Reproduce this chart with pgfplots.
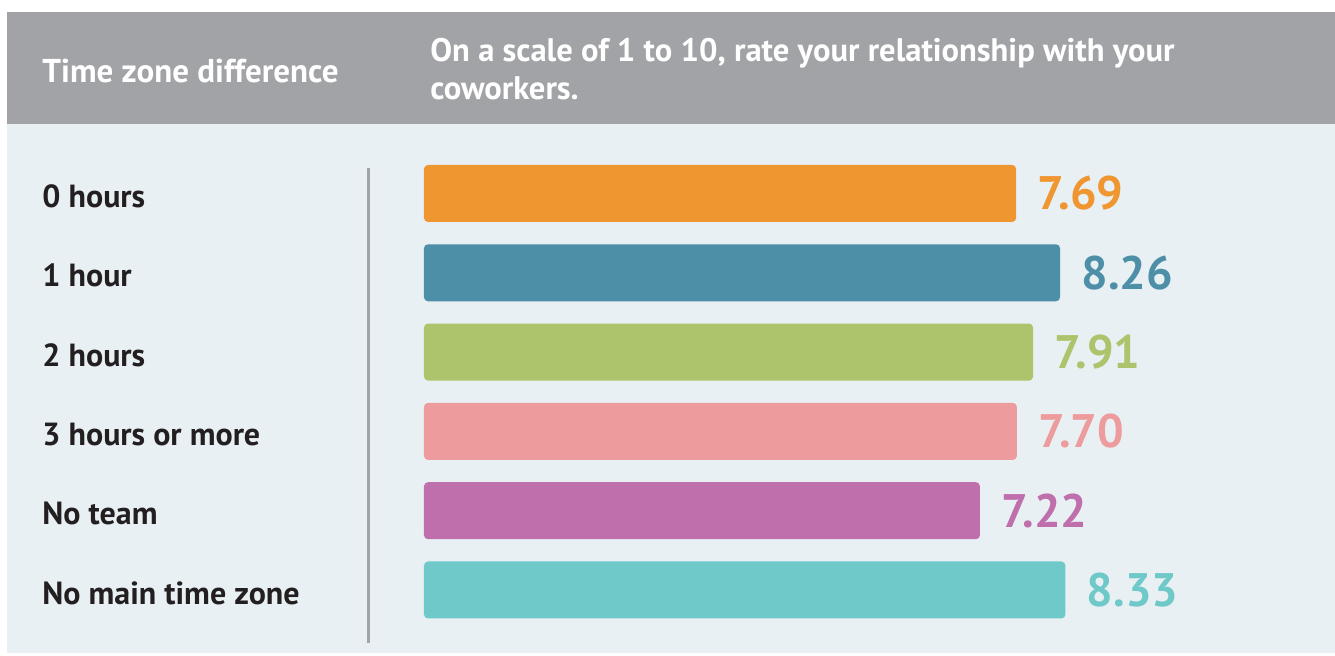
\documentclass[border=0pt]{standalone}
\usepackage{pgfplots}
\pgfplotsset{compat=1.18}
\usepackage{fontspec}
\setmainfont{PT Sans}
\definecolor{hdr}{HTML}{A2A3A6}
\definecolor{bg}{HTML}{E8F0F4}
\definecolor{labelc}{HTML}{231F20}
\definecolor{c1}{HTML}{EF9630}
\definecolor{c2}{HTML}{4E8FA8}
\definecolor{c3}{HTML}{ADC46C}
\definecolor{c4}{HTML}{EE9B9E}
\definecolor{c5}{HTML}{BF6FAB}
\definecolor{c6}{HTML}{6FC9C9}
\begin{document}
\begin{tikzpicture}[x=1pt,y=1pt]
\fill[white] (0,0) rectangle (667.5,327.5);
\fill[hdr] (3.5,265.5) rectangle (667.5,321.5);
\fill[bg] (3.5,1) rectangle (667.5,265.5);
\draw[hdr, line width=1.5pt] (184,6) -- (184,243.5);
\node[anchor=west, inner sep=0, text=white, font=\bfseries\fontsize{16.5}{18.5}\selectfont] at (21,292) {Time zone difference};
\node[anchor=west, align=left, inner sep=0, text=white, font=\bfseries\fontsize{16.3}{18.7}\selectfont] at (215,293) {On a scale of 1 to 10, rate your relationship with your\\coworkers.};
\begin{axis}[at={(212pt,12.68pt)}, anchor=south west, scale only axis,
  width=385pt, height=237.9pt,
  xmin=0, xmax=10, ymin=-0.5, ymax=5.5, y dir=reverse,
  xbar, bar width=28.5pt, bar shift=0pt,
  axis line style={draw=none}, xtick=\empty,
  ytick={0,1,2,3,4,5},
  yticklabels={0 hours,1 hour,2 hours,3 hours or more,No team,No main time zone},
  major tick length=0pt,
  yticklabel style={anchor=west, inner sep=0pt, xshift=-191pt, yshift=-1.5pt, text=labelc, font=\bfseries\fontsize{16}{18}\selectfont},
  clip=false,
  /pgf/number format/assume math mode=true,
  nodes near coords={\pgfmathprintnumber[fixed,fixed zerofill,precision=2]{\pgfplotspointmeta}},
  nodes near coords style={anchor=west, inner sep=0pt, xshift=10.5pt, font=\bfseries\fontsize{23.5}{26}\selectfont},
]
\addplot[draw=none, fill=c1, rounded corners=2pt, every node near coord/.append style={text=c1}] coordinates {(7.69,0)};
\addplot[draw=none, fill=c2, rounded corners=2pt, every node near coord/.append style={text=c2}] coordinates {(8.26,1)};
\addplot[draw=none, fill=c3, rounded corners=2pt, every node near coord/.append style={text=c3}] coordinates {(7.91,2)};
\addplot[draw=none, fill=c4, rounded corners=2pt, every node near coord/.append style={text=c4}] coordinates {(7.70,3)};
\addplot[draw=none, fill=c5, rounded corners=2pt, every node near coord/.append style={text=c5}] coordinates {(7.22,4)};
\addplot[draw=none, fill=c6, rounded corners=2pt, every node near coord/.append style={text=c6}] coordinates {(8.33,5)};
\end{axis}
\end{tikzpicture}
\end{document}
